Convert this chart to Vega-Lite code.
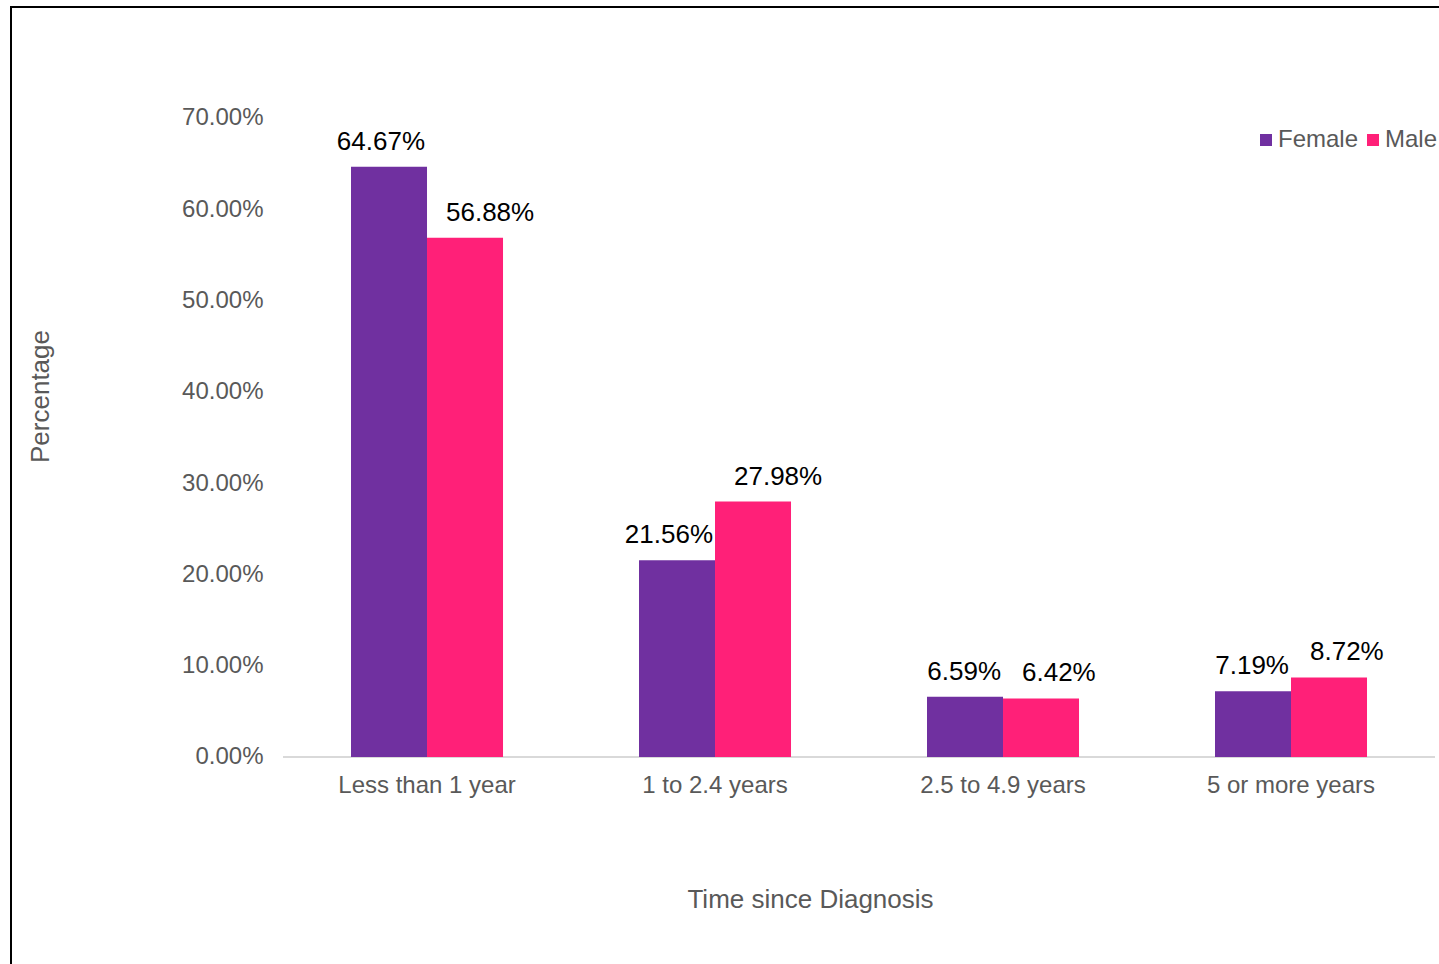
{
  "$schema": "https://vega.github.io/schema/vega-lite/v6.json",
  "width": 1439,
  "height": 964,
  "autosize": {"type": "fit", "contains": "padding"},
  "padding": {"left": 11, "top": 7, "right": -3, "bottom": -3},
  "background": "#ffffff",
  "config": {
    "font": "Liberation Sans",
    "view": {"stroke": "#000000", "strokeWidth": 2}
  },
  "data": {
    "values": [
      {"time": "Less than 1 year", "sex": "Female", "pct": 0.6467},
      {"time": "Less than 1 year", "sex": "Male", "pct": 0.5688},
      {"time": "1 to 2.4 years", "sex": "Female", "pct": 0.2156},
      {"time": "1 to 2.4 years", "sex": "Male", "pct": 0.2798},
      {"time": "2.5 to 4.9 years", "sex": "Female", "pct": 0.0659},
      {"time": "2.5 to 4.9 years", "sex": "Male", "pct": 0.0642},
      {"time": "5 or more years", "sex": "Female", "pct": 0.0719},
      {"time": "5 or more years", "sex": "Male", "pct": 0.0872}
    ]
  },
  "encoding": {
    "x": {
      "field": "time",
      "type": "nominal",
      "sort": ["Less than 1 year", "1 to 2.4 years", "2.5 to 4.9 years", "5 or more years"],
      "scale": {"paddingInner": 0.4722, "paddingOuter": 0.72048, "align": 0.8193},
      "axis": {
        "orient": "bottom",
        "offset": -210,
        "title": "Time since Diagnosis",
        "titleFontSize": 26,
        "titleFontWeight": "normal",
        "titleColor": "#595959",
        "titleX": 799,
        "titleY": 150,
        "titleAlign": "center",
        "titleBaseline": "alphabetic",
        "labelFontSize": 24,
        "labelColor": "#595959",
        "labelAngle": 0,
        "labelPadding": 16,
        "domain": false,
        "ticks": false,
        "tickSize": 0,
        "grid": false
      }
    },
    "xOffset": {
      "field": "sex",
      "type": "nominal",
      "sort": ["Female", "Male"],
      "scale": {"paddingInner": 0, "paddingOuter": 0}
    },
    "y": {
      "field": "pct",
      "type": "quantitative",
      "scale": {"domain": [-0.23005, 0.821596], "nice": false, "zero": false},
      "axis": {
        "orient": "left",
        "offset": -272,
        "values": [0, 0.1, 0.2, 0.3, 0.4, 0.5, 0.6, 0.7],
        "format": ".2%",
        "title": "Percentage",
        "titleFontSize": 26,
        "titleFontWeight": "normal",
        "titleColor": "#595959",
        "titleAngle": -90,
        "titleX": -243,
        "titleY": 389,
        "titleAlign": "center",
        "titleBaseline": "middle",
        "labelFontSize": 24,
        "labelColor": "#595959",
        "labelPadding": 20,
        "domain": false,
        "ticks": false,
        "tickSize": 0,
        "grid": false
      }
    }
  },
  "layer": [
    {
      "mark": {"type": "rule", "color": "#D9D9D9", "strokeWidth": 2},
      "encoding": {
        "x": {"datum": "Less than 1 year", "bandPosition": -0.447},
        "x2": {"datum": "5 or more years", "bandPosition": 1.447},
        "y": {"datum": 0},
        "xOffset": null
      }
    },
    {
      "mark": {"type": "bar"},
      "encoding": {
        "y2": {"datum": 0},
        "color": {
          "field": "sex",
          "type": "nominal",
          "scale": {"domain": ["Female", "Male"], "range": ["#7030A0", "#FF2078"]},
          "legend": {
            "title": null,
            "orient": "none",
            "direction": "horizontal",
            "legendX": 1243,
            "legendY": 121,
            "padding": 0,
            "symbolType": "square",
            "symbolSize": 144,
            "symbolStrokeWidth": 0,
            "labelFontSize": 24,
            "labelColor": "#595959",
            "labelOffset": 0,
            "columnPadding": 2
          }
        }
      }
    },
    {
      "transform": [{"filter": "datum.sex === 'Female'"}],
      "mark": {"type": "text", "align": "right", "baseline": "alphabetic", "dx": 36, "dy": -17, "fontSize": 26, "color": "#000000"},
      "encoding": {
        "text": {"field": "pct", "type": "quantitative", "format": ".2%"}
      }
    },
    {
      "transform": [{"filter": "datum.sex === 'Male'"}],
      "mark": {"type": "text", "align": "left", "baseline": "alphabetic", "dx": -19, "dy": -17, "fontSize": 26, "color": "#000000"},
      "encoding": {
        "text": {"field": "pct", "type": "quantitative", "format": ".2%"}
      }
    }
  ]
}
